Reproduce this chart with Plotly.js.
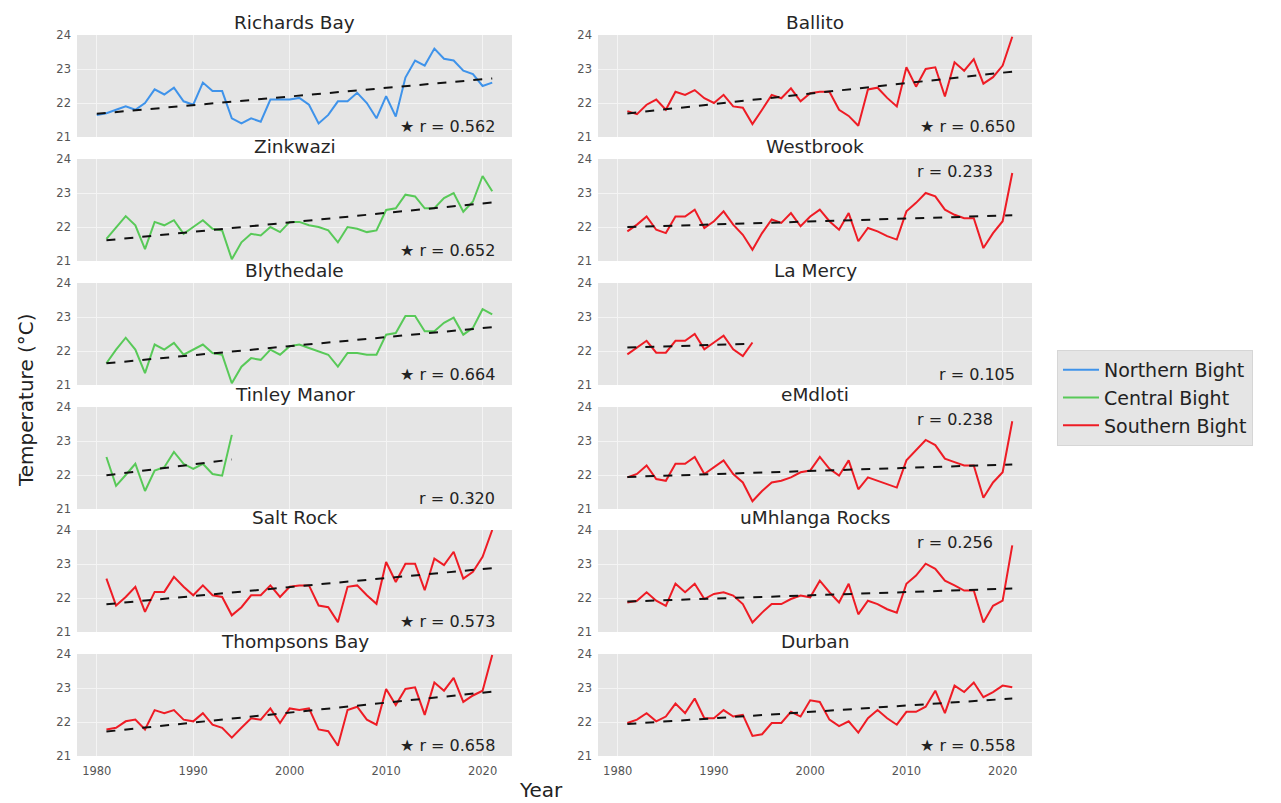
<!DOCTYPE html>
<html>
<head>
<meta charset="utf-8">
<script src="https://cdn.plot.ly/plotly-3.0.1.min.js"></script>
<style>
  html, body { margin: 0; padding: 0; background: #ffffff; }
  #chart { width: 1281px; height: 803px; }
</style>
</head>
<body>
<div id="chart"></div>
<script>
// Annual mean sea temperature (°C) at KwaZulu-Natal coastal sites
const yearsRichardsBay = [1980,1981,1982,1983,1984,1985,1986,1987,1988,1989,1990,1991,1992,1993,1994,1995,1996,1997,1998,1999,2000,2001,2002,2003,2004,2005,2006,2007,2008,2009,2010,2011,2012,2013,2014,2015,2016,2017,2018,2019,2020,2021];
const yearsFull = [1981,1982,1983,1984,1985,1986,1987,1988,1989,1990,1991,1992,1993,1994,1995,1996,1997,1998,1999,2000,2001,2002,2003,2004,2005,2006,2007,2008,2009,2010,2011,2012,2013,2014,2015,2016,2017,2018,2019,2020,2021];
const yearsShort = [1981,1982,1983,1984,1985,1986,1987,1988,1989,1990,1991,1992,1993,1994];

const richardsBay = [21.65,21.7,21.8,21.9,21.8,22.0,22.4,22.25,22.45,22.05,21.95,22.6,22.35,22.35,21.55,21.4,21.55,21.45,22.1,22.1,22.1,22.15,21.95,21.4,21.65,22.05,22.05,22.3,22.0,21.55,22.2,21.6,22.75,23.25,23.1,23.6,23.3,23.25,22.95,22.85,22.5,22.6];
const ballito = [21.76,21.67,21.95,22.1,21.8,22.33,22.24,22.38,22.14,22.0,22.24,21.9,21.86,21.38,21.8,22.24,22.14,22.43,22.05,22.29,22.33,22.33,21.8,21.62,21.33,22.4,22.45,22.15,21.9,23.05,22.48,23.0,23.05,22.19,23.2,22.95,23.29,22.57,22.76,23.1,23.95];
const zinkwazi = [21.65,22.0,22.32,22.05,21.35,22.15,22.05,22.2,21.8,22.0,22.2,21.95,21.9,21.05,21.55,21.8,21.75,22.0,21.85,22.15,22.15,22.05,22.0,21.9,21.55,22.0,21.95,21.85,21.9,22.5,22.55,22.95,22.9,22.55,22.55,22.85,23.0,22.45,22.75,23.5,23.05];
const westbrook = [21.87,22.07,22.31,21.92,21.82,22.31,22.31,22.51,21.97,22.17,22.46,22.07,21.77,21.33,21.82,22.22,22.12,22.41,22.02,22.31,22.51,22.17,21.92,22.41,21.58,21.97,21.87,21.73,21.63,22.46,22.71,23.0,22.9,22.51,22.36,22.26,22.26,21.38,21.82,22.17,23.59];
const blythedale = [21.64,22.04,22.39,22.04,21.35,22.19,22.04,22.24,21.89,22.04,22.19,21.94,21.89,21.05,21.54,21.79,21.74,22.04,21.89,22.14,22.19,22.09,21.99,21.89,21.54,21.94,21.94,21.89,21.89,22.48,22.53,23.03,23.03,22.58,22.58,22.83,22.98,22.48,22.68,23.23,23.08];
const laMercy = [21.9,22.1,22.3,21.95,21.95,22.3,22.3,22.5,22.05,22.25,22.45,22.05,21.85,22.25];
const tinleyManor = [22.53,21.68,22.0,22.33,21.53,22.13,22.23,22.68,22.33,22.18,22.33,22.03,21.98,23.18];
const eMdloti = [21.93,22.03,22.28,21.88,21.83,22.33,22.33,22.53,22.03,22.23,22.43,22.03,21.78,21.23,21.53,21.78,21.83,21.93,22.08,22.13,22.53,22.18,21.98,22.43,21.58,21.93,21.83,21.73,21.63,22.43,22.73,23.03,22.88,22.48,22.38,22.28,22.28,21.33,21.78,22.08,23.58];
const saltRock = [22.57,21.78,22.03,22.33,21.59,22.18,22.18,22.62,22.33,22.08,22.37,22.08,22.03,21.49,21.73,22.08,22.08,22.37,22.03,22.33,22.37,22.37,21.78,21.73,21.29,22.33,22.37,22.08,21.83,23.06,22.47,23.01,23.01,22.23,23.16,22.97,23.36,22.57,22.77,23.21,24.0];
const uMhlangaRocks = [21.87,21.92,22.17,21.92,21.77,22.42,22.17,22.42,21.97,22.12,22.17,22.07,21.82,21.28,21.57,21.82,21.82,21.97,22.07,22.02,22.51,22.17,21.87,22.42,21.52,21.92,21.82,21.67,21.57,22.42,22.66,23.01,22.86,22.51,22.37,22.22,22.22,21.28,21.77,21.92,23.55];
const thompsonsBay = [21.78,21.83,22.02,22.07,21.78,22.35,22.26,22.35,22.07,22.02,22.26,21.92,21.83,21.54,21.83,22.11,22.07,22.4,21.97,22.4,22.35,22.4,21.78,21.73,21.3,22.35,22.45,22.07,21.92,22.97,22.5,22.97,23.02,22.21,23.16,22.92,23.3,22.59,22.78,22.92,23.97];
const durban = [21.97,22.07,22.26,22.02,22.16,22.54,22.26,22.69,22.11,22.11,22.35,22.16,22.21,21.59,21.64,21.97,21.97,22.3,22.16,22.64,22.59,22.07,21.88,22.02,21.69,22.11,22.35,22.11,21.92,22.3,22.3,22.45,22.92,22.26,23.07,22.88,23.16,22.73,22.88,23.07,23.02];

// Correlation coefficients of each record with time, and whether they are significant
const stationNames = ['Richards Bay','Ballito','Zinkwazi','Westbrook','Blythedale','La Mercy','Tinley Manor','eMdloti','Salt Rock','uMhlanga Rocks','Thompsons Bay','Durban'];
const rValues = ['0.562','0.650','0.652','0.233','0.664','0.105','0.320','0.238','0.573','0.256','0.658','0.558'];
const significant = [true,true,true,false,true,false,false,false,true,false,true,true];
const bights = ['Northern Bight','Southern Bight','Central Bight','Southern Bight','Central Bight','Southern Bight','Central Bight','Southern Bight','Southern Bight','Southern Bight','Southern Bight','Southern Bight'];
const bightNames = ['Northern Bight','Central Bight','Southern Bight'];
const yTicks = [21,22,23,24];
const xTicks = [1980,1990,2000,2010,2020];

const stationYears = [yearsRichardsBay,yearsFull,yearsFull,yearsFull,yearsFull,yearsShort,yearsShort,yearsFull,yearsFull,yearsFull,yearsFull,yearsFull];
const stationTemps = [richardsBay,ballito,zinkwazi,westbrook,blythedale,laMercy,tinleyManor,eMdloti,saltRock,uMhlangaRocks,thompsonsBay,durban];

// ---- styling and layout ----
const bightColors = { 'Northern Bight': '#3f93ea', 'Central Bight': '#58c958', 'Southern Bight': '#ee1c25' };
// label above the series (top) or in the lower-right corner (bottom)
const labelAtTop = [false,false,false,true,false,false,false,true,false,true,false,false];

const W = 1281, H = 803;
const marginL = 77, marginR = 249, marginT = 35, marginB = 47;
const plotW = W - marginL - marginR, plotH = H - marginT - marginB;
const panelTops = [35, 159, 283, 407, 530, 654];
const panelH = 102;
const colLeft = [77, 598];
const colWidth = 435;
const XRANGE = [1977.95, 2023.05];
const YRANGE = [21, 24];

function domX(col) {
  const a = (colLeft[col] - marginL) / plotW;
  return [a, Math.min(1, a + colWidth / plotW)];
}
function domY(row) {
  const top = (H - marginB - panelTops[row]) / plotH;
  const bot = (H - marginB - panelTops[row] - panelH) / plotH;
  return [Math.max(0, bot), Math.min(1, top)];
}

function linearFit(xs, ys) {
  const n = xs.length;
  let sx = 0, sy = 0, sxx = 0, sxy = 0;
  for (let i = 0; i < n; i++) { sx += xs[i]; sy += ys[i]; sxx += xs[i]*xs[i]; sxy += xs[i]*ys[i]; }
  const b = (n*sxy - sx*sy) / (n*sxx - sx*sx);
  const a = (sy - b*sx) / n;
  return [a, b];
}

const traces = [];
const annotations = [];
const layout = {
  width: W, height: H,
  margin: { l: marginL, r: marginR, t: marginT, b: marginB },
  paper_bgcolor: '#ffffff',
  plot_bgcolor: '#e5e5e5',
  font: { family: 'DejaVu Sans, sans-serif', color: '#222222' },
  showlegend: true,
  legend: {
    x: (1057 - marginL) / plotW, xanchor: 'left',
    y: (H - marginB - 398) / plotH, yanchor: 'middle',
    bgcolor: '#e5e5e5', bordercolor: '#d6d6d6', borderwidth: 1,
    font: { family: 'DejaVu Sans, sans-serif', size: 19, color: '#222222' },
    tracegroupgap: 0, itemwidth: 36
  }
};

const legendShown = {};
stationNames.forEach((name, k) => {
  const col = k % 2, row = Math.floor(k / 2);
  const ax = k + 1;
  const xa = 'xaxis' + (ax === 1 ? '' : ax), ya = 'yaxis' + (ax === 1 ? '' : ax);
  const xr = 'x' + (ax === 1 ? '' : ax), yr = 'y' + (ax === 1 ? '' : ax);

  layout[xa] = {
    domain: domX(col), anchor: yr, range: XRANGE,
    tickvals: xTicks, showticklabels: row === 5,
    tickfont: { size: 11.5, color: '#555555' }, ticklabelstandoff: 6,
    showgrid: true, gridcolor: '#f4f4f4', gridwidth: 1,
    zeroline: false, showline: false, ticks: '', ticklen: 0
  };
  layout[ya] = {
    domain: domY(row), anchor: xr, range: YRANGE,
    tickvals: yTicks, tickfont: { size: 11.5, color: '#555555' }, ticklabelstandoff: 5,
    showgrid: true, gridcolor: '#f4f4f4', gridwidth: 1,
    zeroline: false, showline: false, ticks: '', ticklen: 0
  };

  const yrs = stationYears[k], temps = stationTemps[k];
  const bight = bights[k];
  const first = !legendShown[bight];
  legendShown[bight] = true;

  traces.push({
    type: 'scatter', mode: 'lines', x: yrs, y: temps,
    xaxis: xr, yaxis: yr,
    line: { color: bightColors[bight], width: 2 },
    name: bight, legendgroup: bight, showlegend: first,
    legendrank: bightNames.indexOf(bight) + 1,
    hoverinfo: 'skip'
  });

  const [a, b] = linearFit(yrs, temps);
  const x0 = yrs[0], x1 = yrs[yrs.length - 1];
  traces.push({
    type: 'scatter', mode: 'lines', x: [x0, x1], y: [a + b*x0, a + b*x1],
    xaxis: xr, yaxis: yr,
    line: { color: '#111111', width: 2, dash: 'dash' },
    showlegend: false, hoverinfo: 'skip'
  });

  // panel title
  annotations.push({
    text: name, xref: 'paper', yref: 'paper',
    x: (domX(col)[0] + domX(col)[1]) / 2, y: domY(row)[1],
    xanchor: 'center', yanchor: 'bottom', yshift: 0, showarrow: false,
    font: { size: 18.5, color: '#262626' }
  });

  // correlation label
  const label = (significant[k] ? '\u2605 ' : '') + 'r = ' + rValues[k];
  annotations.push({
    text: label, xref: xr, yref: yr,
    x: labelAtTop[k] ? 2019.2 : 2021.5,
    y: labelAtTop[k] ? 23.62 : 21.32,
    xanchor: 'right', yanchor: 'middle', showarrow: false,
    font: { size: 16, color: '#222222' }
  });
});

// shared axis titles
annotations.push({
  text: 'Temperature (°C)', xref: 'paper', yref: 'paper',
  x: (26 - marginL) / plotW, y: (H - marginB - 400) / plotH,
  xanchor: 'center', yanchor: 'middle', textangle: -90, showarrow: false,
  font: { size: 20, color: '#222222' }
});
annotations.push({
  text: 'Year', xref: 'paper', yref: 'paper',
  x: (541 - marginL) / plotW, y: (H - marginB - 790) / plotH,
  xanchor: 'center', yanchor: 'middle', showarrow: false,
  font: { size: 20, color: '#222222' }
});

layout.annotations = annotations;

Plotly.newPlot('chart', traces, layout, { displayModeBar: false, staticPlot: true });
</script>
</body>
</html>
